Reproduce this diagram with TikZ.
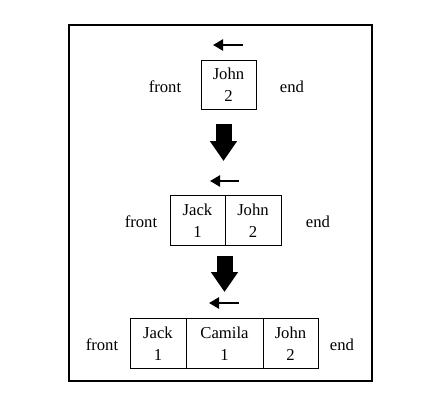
\documentclass[tikz,border=0pt]{standalone}
\usepackage{fontspec}
\setmainfont{Liberation Serif}
\usetikzlibrary{positioning,arrows.meta}

\begin{document}
\begin{tikzpicture}[x=0.6pt,y=-0.6pt,
            every node/.style={font=\fontsize{10}{13.2}\selectfont},
            cell/.style={draw=black,line width=0.5pt,minimum height=29.7pt,
              align=center,inner sep=0pt,outer sep=0pt},
            movearrow/.style={line width=1.6pt,-{Triangle[length=6pt,width=6.6pt]}},
            bigarrow/.style={line width=9.6pt,-{Triangle[length=12pt,width=15.6pt]}}]
            \useasboundingbox (0,0) rectangle (443,411);
            \draw[line width=1.2pt] (69,25) rectangle (372,381);
            % first queue
            \node[cell,minimum width=33pt] (john1) at (228.5,85) {John\\2};
            \node (front1) at (165,87) {front};
            \node (end1) at (292,87) {end};
            \coordinate (m1s) at (243,45);
            \coordinate (m1e) at (213,45);
            \draw[movearrow] (m1s) -- (m1e);
            \coordinate (b1s) at (223.5,124);
            \coordinate (b1e) at (223.5,161);
            \draw[bigarrow] (b1s) -- (b1e);
            % second queue
            \node[cell,minimum width=33pt] (jack2) at (197.5,220.5) {Jack\\1};
            \node[cell,minimum width=33.6pt,right=0pt of jack2] (john2) {John\\2};
            \node (front2) at (141,222) {front};
            \node (end2) at (318,222) {end};
            \coordinate (m2s) at (239,181);
            \coordinate (m2e) at (210,181);
            \draw[movearrow] (m2s) -- (m2e);
            \coordinate (b2s) at (224.5,256);
            \coordinate (b2e) at (224.5,292);
            \draw[bigarrow] (b2s) -- (b2e);
            % third queue
            \node[cell,minimum width=33.6pt] (jack3) at (158,343.5) {Jack\\1};
            \node[cell,minimum width=46.2pt,right=0pt of jack3] (camila3) {Camila\\1};
            \node[cell,minimum width=33pt,right=0pt of camila3] (john3) {John\\2};
            \node (front3) at (102,345) {front};
            \node (end3) at (342,345) {end};
            \coordinate (m3s) at (239,303);
            \coordinate (m3e) at (209,303);
            \draw[movearrow] (m3s) -- (m3e);
          \end{tikzpicture}
\end{document}
